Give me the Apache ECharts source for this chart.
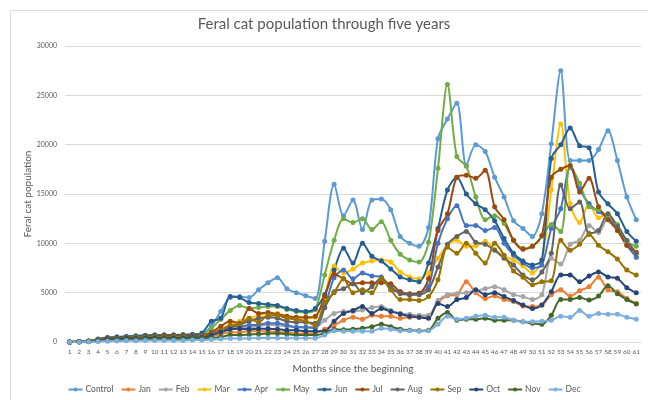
<!DOCTYPE html>
<html>
<head>
<meta charset="utf-8">
<script src="https://cdn.jsdelivr.net/npm/echarts@6/dist/echarts.min.js"></script>
<style>
  html, body { margin: 0; padding: 0; background: #fff; }
  #chart { width: 648px; height: 400px; }
</style>
</head>
<body>
<div id="chart"></div>
<script>
// Months 1..61
const months = Array.from({ length: 61 }, (_, i) => String(i + 1));

const seriesNames = ['Control', 'Jan', 'Feb', 'Mar', 'Apr', 'May', 'Jun', 'Jul', 'Aug', 'Sep', 'Oct', 'Nov', 'Dec'];

const colors = ['#5B9BD5', '#ED7D31', '#A5A5A5', '#FFC000', '#4472C4', '#70AD47',
                '#255E91', '#9E480E', '#636363', '#997300', '#264478', '#43682B', '#7CAFDD'];

const control = [0,50,100,250,400,500,550,600,650,700,700,700,700,750,800,
  1600,3100,4500,4600,4500,5300,6000,6500,5400,5000,4700,4400,10200,16000,12800,
  14400,11400,14400,14500,13400,10700,10000,9700,11600,20600,22600,24200,17900,20000,19300,
  16700,14700,12300,11500,10700,13000,20100,27500,18400,18400,18400,19500,21400,18400,14700,12400];

const jan = [0,20,50,150,250,300,350,350,400,400,400,400,400,450,450,
  600,800,1000,1000,1100,1100,1100,1000,1000,850,850,900,1300,1700,2200,
  2500,2300,2700,2600,2600,2400,2500,2500,2600,4000,4700,4800,6100,5000,4400,
  4700,4300,4100,3650,3600,3750,4800,5300,4650,5200,5600,6550,5300,5100,4400,3900];

const feb = [0,20,50,150,250,300,350,400,400,450,450,450,450,450,500,
  700,1000,1300,1400,1500,1600,1750,1700,1600,1500,1500,1500,2200,2900,3100,
  3100,3250,3500,3600,3200,2900,2800,2700,2700,4200,4800,4900,5000,5200,5400,
  5600,5300,4800,4600,4300,4800,8500,7900,9900,10300,11800,11100,12500,11800,10200,8600];

const mar = [0,30,80,200,350,400,450,500,550,550,550,550,550,600,600,
  1000,1300,1700,2100,2400,2700,2900,2900,2600,2500,2400,2500,4600,7700,7000,
  7400,8000,8200,8300,8100,7100,6600,6400,7000,8500,9800,10300,9700,9750,10200,
  9400,8700,8300,7700,7000,8300,15400,22100,14000,12100,14000,12600,13000,11300,10000,9100];

const apr = [0,30,80,200,350,400,450,500,500,550,550,550,550,600,600,
  900,1200,1500,1600,1700,1750,1900,1900,1700,1500,1500,1400,3500,6500,7300,
  6400,7000,6700,6600,5300,5100,4800,4950,5600,10000,12500,13800,11800,11800,11300,
  11600,10000,8800,8000,7500,7800,11500,13500,17700,15500,14000,13200,12600,11500,9800,8600];

const may = [0,50,100,250,400,500,550,600,650,700,700,700,750,750,800,
  1400,2300,3200,3700,3400,3500,3600,3600,3300,3100,3000,3300,6800,10300,12500,
  12100,12500,11400,12200,10300,8900,8300,8100,10100,17600,26100,18800,17800,14700,12400,
  12800,12000,10300,9500,9700,10700,11900,11200,17800,16100,13700,13400,12700,11900,10200,9700];

const jun = [0,50,100,300,450,500,550,600,650,700,700,700,700,750,900,
  2100,2400,4600,4500,4000,3900,3800,3700,3400,3200,3100,3400,4800,7300,9500,
  8000,10000,8700,8200,7400,6600,6300,6100,8000,11500,15400,16700,15000,14000,13400,
  12300,10500,9000,8200,7800,8300,18600,20000,21700,19900,19700,15200,14000,13000,11200,10200];

const jul = [0,30,80,200,350,400,450,500,550,550,600,600,600,600,650,
  1000,1600,2100,1900,3400,2900,3000,2800,2600,2500,2500,2600,4600,6900,6400,
  5900,6000,6000,6000,5900,5100,4900,4950,6400,11300,13000,16700,16900,16600,17400,
  13700,12400,10300,9400,9700,10800,16700,17500,17900,15200,16600,13700,12400,11300,9800,9100];

const aug = [0,30,80,200,300,350,400,450,500,500,500,500,500,550,550,
  800,1200,1500,1800,2100,2400,2500,2400,2100,2000,2000,1900,3500,5100,5400,
  5900,5000,5600,6450,5600,4900,4800,4800,5300,7600,9900,10700,11200,10100,9900,
  9300,8500,7800,6800,6300,7100,9000,15900,13500,14200,11000,11300,13000,11700,10300,9000];

const sep = [0,30,80,200,300,350,400,450,450,500,500,500,500,500,550,
  800,1200,1700,1750,2400,2000,2700,2700,2400,2300,2100,1700,4000,5000,6400,
  5000,5300,5000,6400,5300,4300,4300,4200,4600,6300,9600,9000,10000,9000,8000,
  10000,8800,7200,6550,5800,6100,6200,10300,9300,9900,10900,9800,9150,8400,7300,6800];

const oct = [0,20,60,150,250,300,350,350,400,400,400,400,400,450,450,
  700,1000,1300,1350,1300,1350,1350,1300,1200,1200,1100,1100,1100,2100,2900,
  3200,3600,2900,3400,3100,2850,2600,2500,2400,3900,3600,4300,4500,5300,4800,
  5000,4600,4200,3750,3400,3750,5100,6800,6800,6100,6700,7100,6600,6450,5500,5000];

const nov = [0,10,40,100,150,200,250,250,300,300,300,300,300,350,350,
  400,500,700,700,750,800,850,850,800,700,700,700,900,1300,1250,
  1300,1400,1550,1800,1550,1300,1200,1150,1200,2400,3000,2200,2300,2300,2400,
  2200,2200,2200,2050,1900,1800,2700,4300,4300,4500,4250,4650,5700,4900,4300,3850];

const dec = [0,10,20,50,80,100,120,130,150,150,150,150,150,200,200,
  250,300,350,350,380,400,400,400,400,380,380,380,700,1150,1100,
  1100,1100,1100,1400,1300,1150,1150,1100,1150,1800,2600,2300,2400,2600,2700,
  2500,2500,2200,2050,2050,2100,2200,2600,2500,3200,2600,2900,2800,2800,2500,2300];

const seriesValues = [control, jan, feb, mar, apr, may, jun, jul, aug, sep, oct, nov, dec];

const yTicks = { min: 0, max: 30000, interval: 5000 };

const textColor = '#595959';
const gridColor = '#d9d9d9';
const fontFamily = 'Lato, "Open Sans", sans-serif';

const chart = echarts.init(document.getElementById('chart'), null, { renderer: 'canvas' });

chart.setOption({
  animation: false,
  color: colors,
  textStyle: { fontFamily: fontFamily },
  graphic: [{
    type: 'rect',
    shape: { x: 10.5, y: 10.5, width: 700, height: 500 },
    style: { fill: 'none', stroke: gridColor, lineWidth: 1 },
    silent: true,
    z: -10
  }],
  title: {
    text: 'Feral cat population through five years',
    left: 'center',
    top: 12,
    textStyle: { fontFamily: fontFamily, fontSize: 15, fontWeight: 'normal', color: textColor }
  },
  legend: {
    data: seriesNames,
    bottom: 1,
    left: 'center',
    itemWidth: 14,
    itemHeight: 5,
    itemGap: 7,
    textStyle: { fontFamily: fontFamily, fontSize: 8.5, color: textColor, padding: [0, 0, 0, -2] }
  },
  grid: { left: 65, right: 7, top: 46, bottom: 58, containLabel: false },
  xAxis: {
    type: 'category',
    data: months,
    boundaryGap: true,
    name: 'Months since the beginning',
    nameLocation: 'middle',
    nameGap: 22,
    nameMoveOverlap: false,
    nameTextStyle: { fontFamily: fontFamily, fontSize: 10, color: textColor },
    axisLine: { lineStyle: { color: gridColor } },
    axisTick: { show: false },
    axisLabel: { interval: 0, fontSize: 6.5, color: textColor, margin: 6 }
  },
  yAxis: {
    type: 'value',
    min: yTicks.min,
    max: yTicks.max,
    interval: yTicks.interval,
    name: 'Feral cat population',
    nameLocation: 'middle',
    nameGap: 32,
    nameMoveOverlap: false,
    nameTextStyle: { fontFamily: fontFamily, fontSize: 10, color: textColor },
    axisLine: { show: false },
    axisTick: { show: false },
    axisLabel: { fontSize: 7, color: textColor, margin: 8, formatter: v => String(v) },
    splitLine: { lineStyle: { color: gridColor } }
  },
  series: seriesNames.map((name, i) => ({
    name: name,
    type: 'line',
    data: seriesValues[i],
    smooth: 0.3,
    symbol: 'circle',
    symbolSize: 5,
    showSymbol: true,
    lineStyle: { width: 2, color: colors[i] },
    itemStyle: { color: colors[i] }
  }))
});
</script>
</body>
</html>
